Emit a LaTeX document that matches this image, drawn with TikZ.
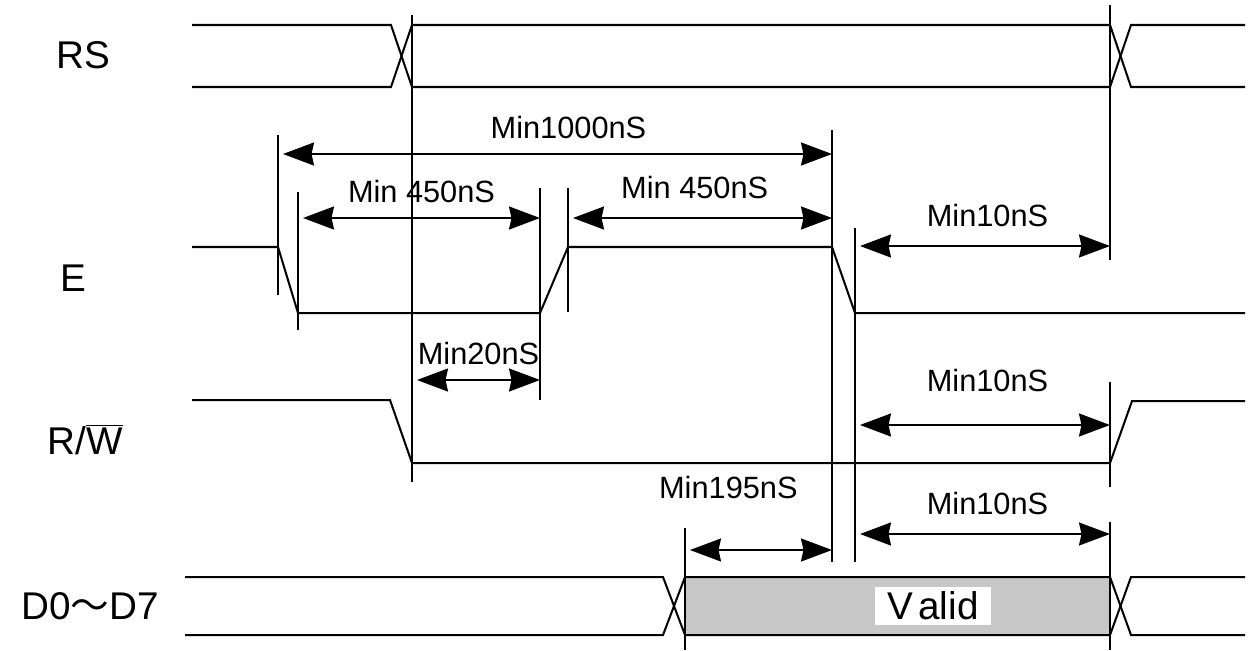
\documentclass[tikz,border=0pt]{standalone}
\usepackage{fontspec}
\setmainfont{Liberation Sans}
\newfontfamily\cjk{Noto Sans CJK JP}
\usetikzlibrary{arrows.meta}

\begin{document}
\begin{tikzpicture}[x=0.02cm, y=-0.02cm,
  sig/.style={line width=1.15pt},
  tick/.style={line width=0.8pt},
  dim/.style={line width=1.1pt, {Stealth[length=0.62cm, width=0.46cm, inset=0.05cm]}-{Stealth[length=0.62cm, width=0.46cm, inset=0.05cm]}},
  signame/.style={font=\fontsize{22}{24}\selectfont},
  dimtext/.style={font=\fontsize{17.5}{19}\selectfont}]
\useasboundingbox (0,0) rectangle (1250,650);

\coordinate (eDown) at (278,0);
\coordinate (eLow) at (298,0);
\coordinate (rsSet) at (412,0);
\coordinate (eUp) at (540,0);
\coordinate (eHigh) at (568,0);
\coordinate (eFall) at (832,0);
\coordinate (eOff) at (855,0);
\coordinate (dValid) at (685,0);
\coordinate (rsEnd) at (1110,0);

\node[signame] (rs) at (83,55) {RS};
\node[signame] (e) at (73,278) {E};
\node[signame] (rw) at (85,440) {R/$\overline{\mbox{W}}$};
\node[signame] (d) at (90,606) {D0{\cjk ～}D7};

\fill[black!22] (dValid |- 0,577) rectangle (rsEnd |- 0,635);

\draw[sig] (192,25) -- (391,25) -- (rsSet |- 0,87) -- (rsEnd |- 0,87) -- (1131,25) -- (1245,25);
\draw[sig] (192,87) -- (391,87) -- (rsSet |- 0,25) -- (rsEnd |- 0,25) -- (1131,87) -- (1245,87);
\draw[sig] (192,247) -- (eDown |- 0,247) -- (eLow |- 0,313) -- (eUp |- 0,313) -- (eHigh |- 0,247)
  -- (eFall |- 0,247) -- (eOff |- 0,313) -- (1245,313);
\draw[sig] (192,400) -- (390,400) -- (rsSet |- 0,463) -- (rsEnd |- 0,463) -- (1132,401) -- (1245,401);
\draw[sig] (185,577) -- (663,577) -- (dValid |- 0,635) -- (rsEnd |- 0,635) -- (1131,577) -- (1245,577);
\draw[sig] (185,635) -- (663,635) -- (dValid |- 0,577) -- (rsEnd |- 0,577) -- (1131,635) -- (1245,635);

\node[signame, fill=white, inner xsep=0.24cm, inner ysep=3pt] (valid) at (933,606) {V\kern3pt alid};

\draw[tick] (eDown |- 0,135) -- (eDown |- 0,295);
\draw[tick] (eLow |- 0,192) -- (eLow |- 0,330);
\draw[tick] (rsSet |- 0,15) -- (rsSet |- 0,482);
\draw[tick] (eUp |- 0,188) -- (eUp |- 0,400);
\draw[tick] (eHigh |- 0,188) -- (eHigh |- 0,312);
\draw[tick] (eFall |- 0,130) -- (eFall |- 0,562);
\draw[tick] (eOff |- 0,228) -- (eOff |- 0,562);
\draw[tick] (rsEnd |- 0,5) -- (rsEnd |- 0,260);
\draw[tick] (rsEnd |- 0,382) -- (rsEnd |- 0,487);
\draw[tick] (rsEnd |- 0,522) -- (rsEnd |- 0,650);
\draw[tick] (dValid |- 0,528) -- (dValid |- 0,650);

\draw[dim] ([xshift=0.1cm]eDown |- 0,154) -- (eFall |- 0,154) node[dimtext, pos=0.52, above=5pt] {Min1000nS};
\draw[dim] ([xshift=0.1cm]eLow |- 0,218) -- (eUp |- 0,218) node[dimtext, midway, above=5pt] {Min 450nS};
\draw[dim] ([xshift=0.1cm]eHigh |- 0,218) -- (eFall |- 0,218) node[dimtext, pos=0.47, above=7pt] {Min 450nS};
\draw[dim] ([xshift=0.1cm]eOff |- 0,246) -- (rsEnd |- 0,246) node[dimtext, pos=0.51, above=7pt] {Min10nS};
\draw[dim] ([xshift=0.1cm]rsSet |- 0,380) -- (eUp |- 0,380) node[dimtext, midway, above=5pt] {Min20nS};
\draw[dim] ([xshift=0.1cm]eOff |- 0,425) -- (rsEnd |- 0,425) node[dimtext, pos=0.51, above=15pt] {Min10nS};
\draw[dim] ([xshift=0.1cm]dValid |- 0,550) -- (eFall |- 0,550) node[dimtext, pos=0.27, above=25pt] {Min195nS};
\draw[dim] ([xshift=0.1cm]eOff |- 0,534) -- (rsEnd |- 0,534) node[dimtext, pos=0.51, above=7pt] {Min10nS};
\end{tikzpicture}
\end{document}
